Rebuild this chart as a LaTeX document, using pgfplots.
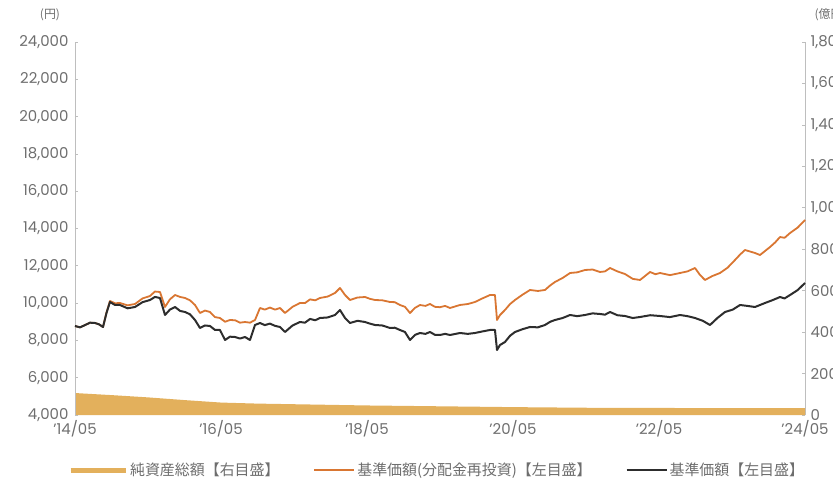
\documentclass[border=0pt]{standalone}
\usepackage{fontspec}
\setmainfont{Poppins}
\newfontfamily\jp{Noto Sans CJK JP}
\usepackage{pgfplots}
\pgfplotsset{compat=1.18}

\definecolor{navgold}{RGB}{227,176,92}
\definecolor{reinv}{RGB}{217,118,50}
\definecolor{basep}{RGB}{45,45,45}
\definecolor{axgray}{RGB}{190,190,190}
\definecolor{labgray}{RGB}{110,110,110}

% x: years since 2014/05
\pgfplotstableread{
t      nav
0.00   106
0.50   96
1.00   85
1.50   72
2.00   60
2.50   55
3.00   52
4.00   46
5.00   42
6.00   38
7.00   35
8.00   34
9.00   33
10.00  33
}\navtable

\pgfplotstableread{
t      v
0.000 8772
0.068 8700
0.137 8820
0.205 8950
0.274 8933
0.330 8860
0.384 8719
0.430 9480
0.479 10113
0.548 9990
0.616 10006
0.720 9880
0.822 9952
0.925 10250
1.027 10381
1.095 10620
1.164 10595
1.233 9791
1.300 10200
1.370 10434
1.440 10330
1.507 10274
1.575 10150
1.644 9898
1.712 9469
1.780 9600
1.849 9523
1.918 9250
1.986 9201
2.055 9000
2.123 9094
2.192 9080
2.260 8950
2.329 8987
2.397 8950
2.466 9094
2.534 9737
2.600 9650
2.670 9760
2.740 9650
2.808 9737
2.877 9469
2.980 9800
3.082 10006
3.150 10000
3.220 10200
3.290 10150
3.356 10274
3.460 10350
3.562 10542
3.630 10810
3.699 10434
3.767 10166
3.870 10300
3.973 10327
4.040 10230
4.110 10166
4.210 10150
4.315 10059
4.380 10050
4.452 9898
4.520 9800
4.589 9469
4.660 9750
4.726 9898
4.800 9850
4.863 9952
4.930 9800
5.000 9780
5.070 9850
5.137 9737
5.274 9900
5.380 9950
5.479 10059
5.580 10250
5.685 10434
5.753 10434
5.781 9094
5.822 9362
5.890 9630
5.960 9950
6.027 10166
6.130 10450
6.233 10703
6.340 10650
6.438 10703
6.510 10950
6.575 11131
6.680 11350
6.781 11614
6.880 11650
6.986 11775
7.090 11800
7.192 11668
7.260 11700
7.329 11882
7.430 11700
7.534 11560
7.640 11300
7.740 11239
7.877 11668
7.950 11550
8.014 11614
8.150 11500
8.288 11614
8.390 11700
8.493 11882
8.562 11507
8.630 11239
8.730 11450
8.836 11614
8.940 11900
9.041 12311
9.110 12600
9.178 12847
9.315 12686
9.384 12579
9.521 13008
9.590 13250
9.658 13544
9.720 13500
9.795 13758
9.900 14050
10.000 14456
}\reinvtable

\pgfplotstableread{
t      v
0.000 8772
0.068 8700
0.137 8820
0.205 8950
0.274 8933
0.330 8860
0.384 8719
0.430 9450
0.479 10059
0.548 9900
0.616 9898
0.720 9720
0.822 9791
0.925 10050
1.027 10166
1.095 10330
1.164 10274
1.233 9362
1.300 9650
1.370 9791
1.440 9580
1.507 9523
1.575 9400
1.644 9094
1.712 8665
1.780 8800
1.849 8772
1.918 8560
1.986 8558
2.055 8022
2.123 8200
2.192 8182
2.260 8100
2.329 8182
2.397 8022
2.466 8826
2.534 8933
2.600 8820
2.670 8900
2.740 8780
2.808 8719
2.877 8450
2.980 8800
3.082 8987
3.150 8950
3.220 9150
3.290 9080
3.356 9201
3.460 9230
3.562 9362
3.630 9630
3.699 9201
3.767 8933
3.870 9050
3.973 8987
4.040 8900
4.110 8826
4.210 8800
4.315 8665
4.380 8680
4.452 8558
4.520 8450
4.589 8022
4.660 8300
4.726 8397
4.800 8350
4.863 8450
4.930 8300
5.000 8290
5.070 8350
5.137 8290
5.274 8397
5.380 8350
5.479 8397
5.580 8480
5.685 8558
5.753 8558
5.781 7485
5.822 7753
5.890 7914
5.960 8250
6.027 8450
6.130 8600
6.233 8719
6.340 8700
6.438 8826
6.510 9000
6.575 9094
6.680 9200
6.781 9362
6.880 9300
6.986 9362
7.090 9450
7.192 9416
7.260 9380
7.329 9523
7.430 9350
7.534 9308
7.640 9200
7.740 9255
7.880 9350
8.014 9308
8.150 9250
8.288 9362
8.390 9300
8.493 9201
8.600 9050
8.699 8826
8.800 9200
8.904 9523
9.010 9650
9.110 9898
9.210 9850
9.315 9791
9.452 10006
9.550 10150
9.658 10327
9.720 10250
9.795 10434
9.900 10700
10.000 11078
}\basetable

\begin{document}
\begin{tikzpicture}
\pgfplotsset{
  base/.style={
    scale only axis, width=730bp, height=373bp,
    xmin=0, xmax=10,
    scaled y ticks=false,
    /pgf/number format/assume math mode=true,
    /pgf/number format/1000 sep={,},
    tick label style={font=\fontsize{15}{17}\selectfont, text=labgray},
    major tick length=3bp,
    tick style={axgray, line width=0.6bp},
    axis line style={axgray, line width=0.8bp},
  }
}
% right axis: net assets (fill)
\begin{axis}[base,
    axis y line*=right, axis x line=none,
    ymin=0, ymax=1800, ytick={0,200,...,1800},
    yticklabel style={xshift=2bp},
    legend columns=3,
    legend style={at={(0.496,-0.148)}, anchor=center, draw=none,
      font=\jp\fontsize{15}{17}\selectfont, text=labgray,
      /tikz/every even column/.append style={column sep=32bp}},
  ]
  \addplot[fill=navgold, draw=none,
    legend image code/.code={\draw[navgold, line width=5bp] (0bp,0bp) -- (55bp,0bp);}]
    table[x=t, y=nav] {\navtable} \closedcycle;
  \addlegendentry{純資産総額【右目盛】}
  \addlegendimage{reinv, line width=1.8bp,
    legend image code/.code={\draw[reinv, line width=1.8bp] (0bp,0bp) -- (40bp,0bp);}}
  \addlegendentry{基準価額(分配金再投資)【左目盛】}
  \addlegendimage{basep, line width=2bp,
    legend image code/.code={\draw[basep, line width=2bp] (0bp,0bp) -- (40bp,0bp);}}
  \addlegendentry{基準価額【左目盛】}
\end{axis}
% left axis: prices
\begin{axis}[base,
    axis y line*=left, axis x line*=bottom,
    x axis line style={draw=none},
    xtick={0,2,...,10}, major x tick style={draw=none},
    xticklabels={’14/05,’16/05,’18/05,’20/05,’22/05,’24/05},
    xticklabel style={yshift=-2bp},
    ymin=4000, ymax=24000, ytick={4000,6000,...,24000},
    yticklabel style={xshift=-3bp},
    clip=false,
  ]
  \addplot[reinv, line width=1.8bp, line join=round] table[x=t, y=v] {\reinvtable};
  \addplot[basep, line width=2bp, line join=round] table[x=t, y=v] {\basetable};
  \node[font=\jp\fontsize{12}{14}\selectfont, text=labgray] at ([xshift=-25bp, yshift=27bp]rel axis cs:0,1) {(円)};
  \node[font=\jp\fontsize{12}{14}\selectfont, text=labgray, anchor=west] at ([xshift=6bp, yshift=27bp]rel axis cs:1,1) {(億円)};
\end{axis}
\pgfresetboundingbox
\useasboundingbox (-75bp,-81bp) rectangle (758bp,415bp);
\end{tikzpicture}
\end{document}
